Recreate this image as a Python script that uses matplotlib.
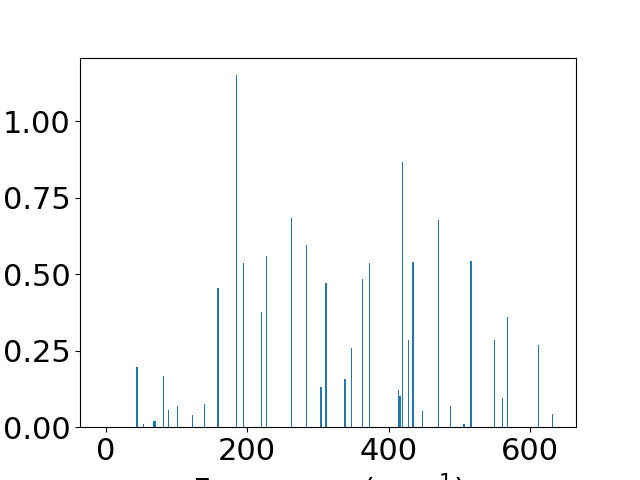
import matplotlib
matplotlib.use("Agg")
import matplotlib.pyplot as plt

freqs = [43.1, 44.5, 53, 68.3, 69.7, 81.5, 88.5, 101, 122.4, 139.4, 158, 159.4, 184.6, 194.5,
         220, 227, 262.3, 283.5, 303.2, 304.6, 310.3, 311.7, 337.5, 338.9, 347.1, 362.7, 372.6,
         413.6, 415.8, 417, 419.2, 427.7, 433.3, 434.7, 447.5, 470, 487, 505.3, 506.7,
         515.3, 516.7, 549, 560.6, 567.6, 611.5, 631.2]
intens = [0.196, 0.196, 0.010, 0.020, 0.020, 0.167, 0.056, 0.068, 0.039, 0.075, 0.454, 0.454, 1.150, 0.536,
          0.376, 0.559, 0.683, 0.595, 0.131, 0.131, 0.470, 0.470, 0.157, 0.157, 0.258, 0.484, 0.536,
          0.121, 0.101, 0.101, 0.866, 0.284, 0.539, 0.539, 0.052, 0.676, 0.068, 0.010, 0.010,
          0.542, 0.542, 0.284, 0.094, 0.360, 0.269, 0.042]

fig, ax = plt.subplots(figsize=(6.4, 4.8), dpi=100)
ax.bar(freqs, intens, width=1.45, color="#1f77b4")
ax.set_xlim(-36.3, 664.7)
ax.set_xlabel("Frequency (cm$^{-1}$)", fontsize=22)
ax.tick_params(labelsize=22)
ax.set_xticks([0, 200, 400, 600])
ax.set_yticks([0.0, 0.25, 0.5, 0.75, 1.0])
fig.savefig("out.png", dpi=100)
